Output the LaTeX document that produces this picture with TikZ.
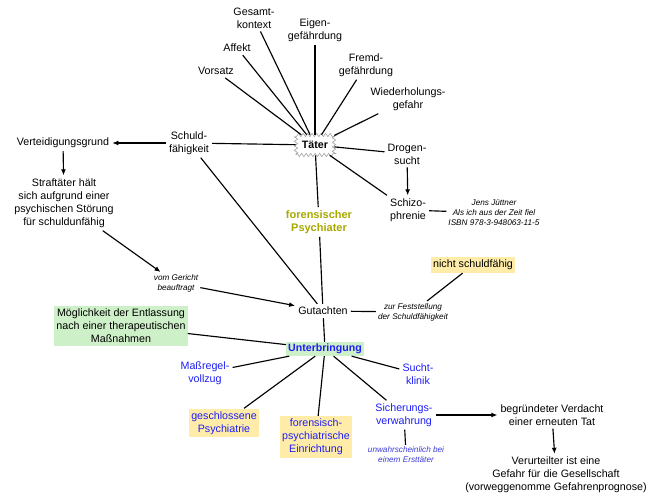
\documentclass[tikz,border=0pt]{standalone}
\usepackage{fontspec}
\setmainfont{Liberation Sans}
\usetikzlibrary{arrows.meta,decorations.pathmorphing}
\definecolor{boxgreen}{RGB}{206,240,200}
\definecolor{boxyellow}{RGB}{255,236,168}
\definecolor{olivetxt}{RGB}{168,168,0}
\definecolor{bluetxt}{RGB}{30,30,250}
\definecolor{blueit}{RGB}{60,60,220}
\definecolor{zzgray}{RGB}{165,165,165}
\tikzset{
  txt/.style={align=center, inner sep=3pt, font=\fontsize{10.7}{13}\selectfont},
  smallit/.style={align=center, inner sep=2pt, font=\fontsize{8.2}{10}\selectfont\itshape},
  greenbox/.style={txt, fill=boxgreen, inner xsep=2pt, inner ysep=3pt},
  yellowbox/.style={txt, fill=boxyellow, inner xsep=2.5pt, inner ysep=3pt},
  bluetext/.style={text=bluetxt},
  conn/.style={line width=1.15pt, black},
  arr/.style={conn, -{Latex[length=6pt,width=5pt]}},
}
\begin{document}
\begin{tikzpicture}[x=1pt,y=-1pt]
\useasboundingbox[fill=white] (0,0) rectangle (654,500);
% central node
\node[txt, font=\fontsize{10.7}{13}\selectfont\bfseries, draw=zzgray, fill=white, line width=0.6pt,
      minimum width=38pt, minimum height=20pt,
      decorate, decoration={zigzag, amplitude=1.7pt, segment length=4.5pt}] (taeter) at (315,145) {Täter};
% top nodes
\node[txt] (gesamt) at (254,18) {Gesamt-\\kontext};
\node[txt] (eigen) at (315,30) {Eigen-\\gefährdung};
\node[txt] (affekt) at (237,48) {Affekt};
\node[txt] (vorsatz) at (216,71) {Vorsatz};
\node[txt] (fremd) at (366,65) {Fremd-\\gefährdung};
\node[txt] (wieder) at (408,99) {Wiederholungs-\\gefahr};
\node[txt] (schuld) at (189,143) {Schuld-\\fähigkeit};
\node[txt] (drogen) at (407,154) {Drogen-\\sucht};
\node[txt] (schizo) at (408,210) {Schizo-\\phrenie};
\node[smallit] (buch) at (494,213) {Jens Jüttner\\Als ich aus der Zeit fiel\\ISBN 978-3-948063-11-5};
\node[txt] (vert) at (63,143) {Verteidigungsgrund};
\node[txt] (straf) at (64,203) {Straftäter hält\\sich aufgrund einer\\psychischen Störung\\für schuldunfähig};
\node[smallit] (gericht) at (176,283) {vom Gericht\\beauftragt};
\node[txt, font=\fontsize{11}{13}\selectfont\bfseries, text=olivetxt] (psych) at (319,222) {forensischer\\Psychiater};
\node[txt] (gut) at (323,311) {Gutachten};
\node[smallit] (fest) at (413,312) {zur Feststellung\\der Schuldfähigkeit};
\node[yellowbox] (nicht) at (473,265) {nicht schuldfähig};
\node[greenbox] (moeg) at (121,326) {Möglichkeit der Entlassung\\nach einer therapeutischen\\Maßnahmen};
\node[greenbox, inner ysep=2pt, font=\fontsize{10.6}{13}\selectfont\bfseries, text=bluetxt] (unter) at (325,349) {Unterbringung};
\node[txt, bluetext] (mass) at (205,373) {Maßregel-\\vollzug};
\node[txt, bluetext] (sucht) at (418,374) {Sucht-\\klinik};
\node[yellowbox, bluetext] (geschl) at (224,423) {geschlossene\\Psychiatrie};
\node[yellowbox, bluetext] (foren) at (316,437) {forensisch-\\psychiatrische\\Einrichtung};
\node[txt, bluetext] (sicher) at (404,415) {Sicherungs-\\verwahrung};
\node[smallit, text=blueit] (unwahr) at (406,455) {unwahrscheinlich bei\\einem Ersttäter};
\node[txt] (begr) at (552,415) {begründeter Verdacht\\einer erneuten Tat};
\node[txt] (verurt) at (556,475) {Verurteilter ist eine\\Gefahr für die Gesellschaft\\(vorweggenomme Gefahrenprognose)};
% connectors from Täter
\draw[conn] (taeter) -- (gesamt);
\draw[conn] (taeter) -- (eigen);
\draw[conn] (taeter) -- (affekt);
\draw[conn] (taeter) -- (vorsatz);
\draw[conn] (taeter) -- (fremd);
\draw[conn] (taeter) -- (wieder);
\draw[conn] (taeter) -- (schuld);
\draw[conn] (taeter) -- (drogen);
\draw[conn] (taeter) -- (schizo);
\draw[conn] (taeter) -- (psych);
\draw[conn] (psych) -- (gut);
% left chain
\draw[arr] (schuld) -- (vert);
\draw[arr] (vert) -- (straf);
\draw[arr] (straf) -- (gericht);
\draw[arr] (gericht) -- (gut);
\draw[conn] (schuld) -- (gut);
% right side
\draw[arr] (drogen) -- (schizo);
\draw[conn] (schizo) -- (buch);
\draw[conn] (gut) -- (fest);
\draw[conn] (fest) -- (nicht);
% Unterbringung
\draw[conn] (gut) -- (unter);
\draw[conn] (moeg) -- (unter);
\draw[conn] (unter) -- (mass);
\draw[conn] (unter) -- (geschl);
\draw[conn] (unter) -- (foren);
\draw[conn] (unter) -- (sicher);
\draw[conn] (unter) -- (sucht);
\draw[conn] (sicher) -- (unwahr);
\draw[arr] (sicher) -- (begr);
\draw[arr] (begr) -- (verurt);
\end{tikzpicture}
\end{document}
